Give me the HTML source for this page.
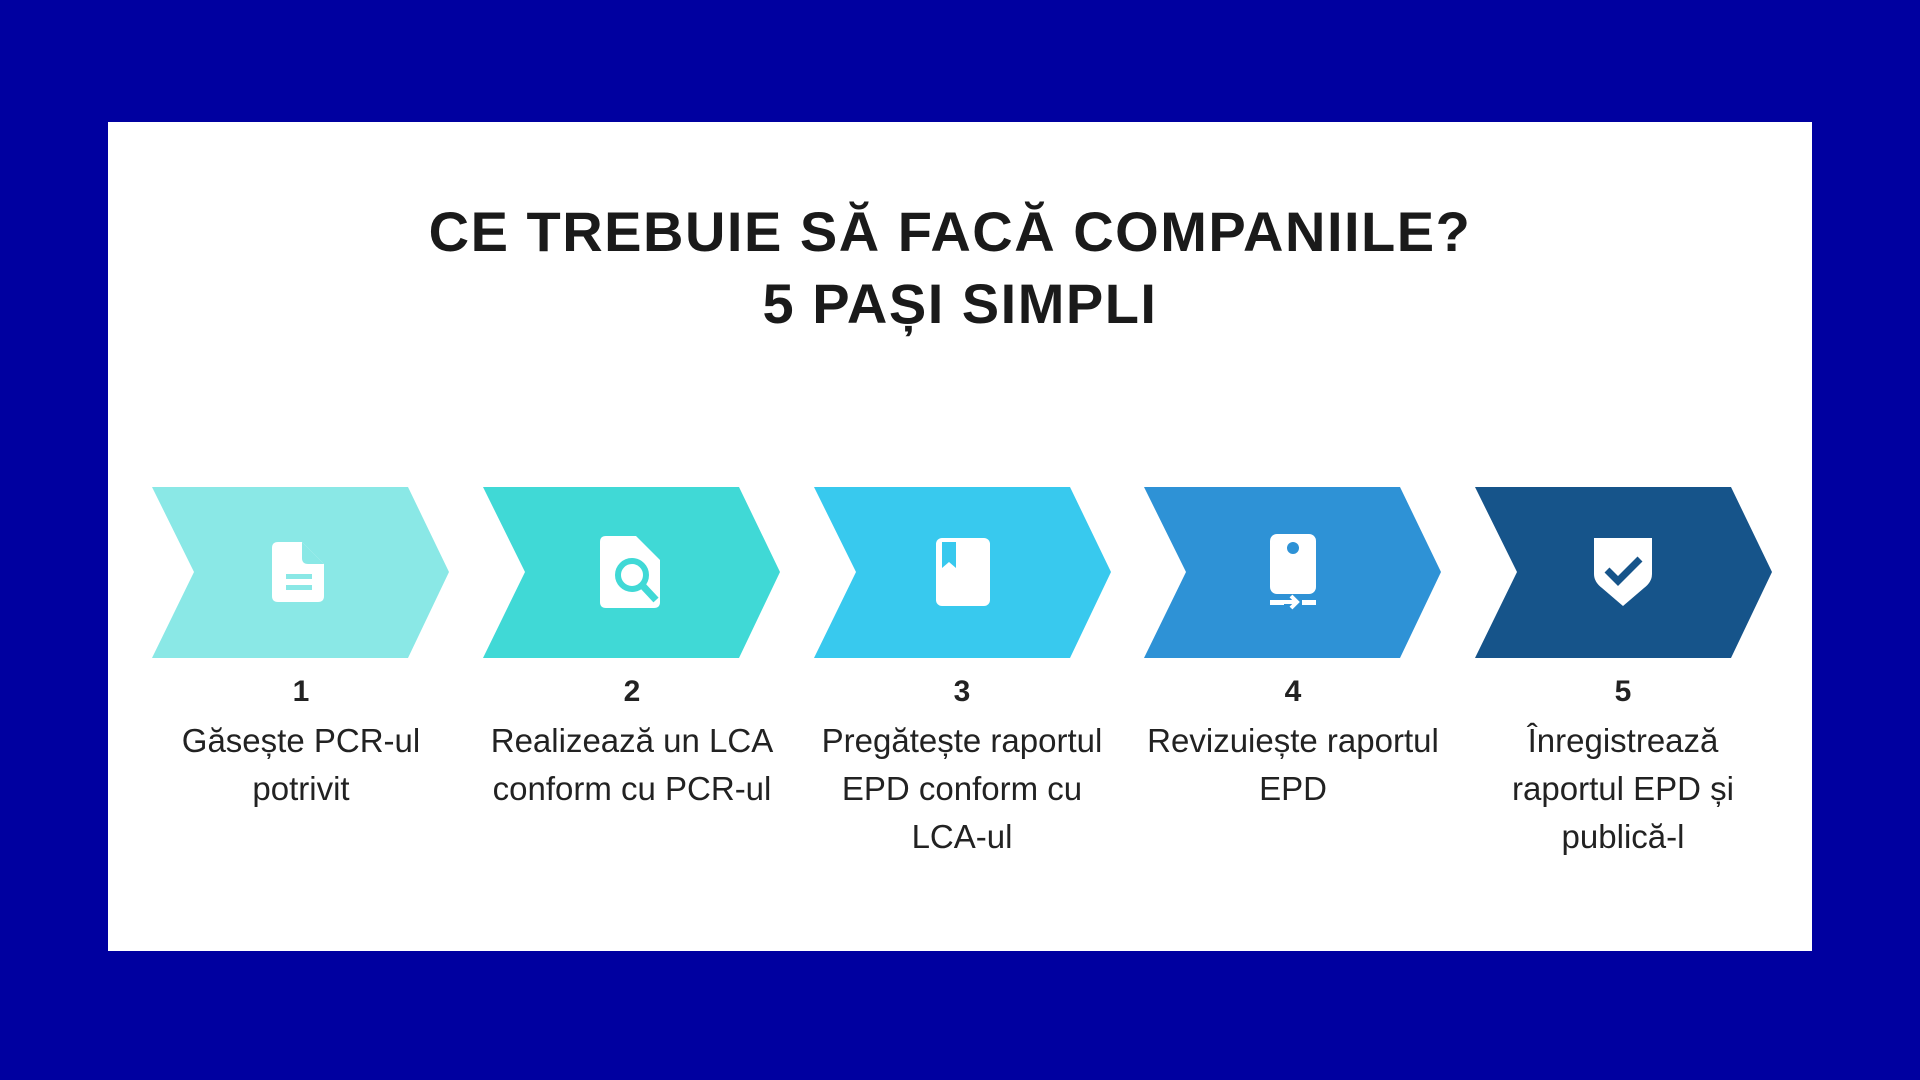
<!DOCTYPE html>
<html><head><meta charset="utf-8"><style>
html,body{margin:0;padding:0}
body{width:1920px;height:1080px;background:#0000A0;position:relative;overflow:hidden;font-family:"Liberation Sans",sans-serif}
.card{position:absolute;left:108px;top:122px;width:1704px;height:829px;background:#fff}
.title{position:absolute;width:1920px;text-align:center;font-weight:bold;font-size:56px;color:#1a1a1a;letter-spacing:1.5px;line-height:72px}
.lbl{position:absolute;width:330px;text-align:center;color:#222;font-size:33px;line-height:48px}
.num{position:absolute;width:330px;text-align:center;color:#222;font-size:30px;font-weight:bold}
</style></head><body>
<div class="card"></div>
<div class="title" style="left:-10px;top:196px">CE TREBUIE SĂ FACĂ COMPANIILE?</div>
<div class="title" style="left:0px;top:268px">5 PAȘI SIMPLI</div>
<svg width="1920" height="1080" style="position:absolute;left:0;top:0">
<g>
<polygon points="152,487 408,487 449,572 408,658 152,658 194,572" fill="#8AE8E6"/>
<polygon points="483,487 739,487 780,572 739,658 483,658 525,572" fill="#40D9D6"/>
<polygon points="814,487 1070,487 1111,572 1070,658 814,658 856,572" fill="#38C9EE"/>
<polygon points="1144,487 1400,487 1441,572 1400,658 1144,658 1186,572" fill="#2E92D6"/>
<polygon points="1475,487 1731,487 1772,572 1731,658 1475,658 1517,572" fill="#16548A"/>
</g>
<path d="M278,542 h24 l22,22 v32 q0,6 -6,6 h-40 q-6,0 -6,-6 v-48 q0,-6 6,-6z" fill="#fff"/>
<path d="M302,542 v16 q0,6 6,6 h16" fill="#8AE8E6"/>
<rect x="286" y="574" width="26" height="5" fill="#8AE8E6"/>
<rect x="286" y="585" width="26" height="5" fill="#8AE8E6"/>
<path d="M610,536 h26 l24,24 v42 q0,6 -6,6 h-48 q-6,0 -6,-6 v-60 q0,-6 6,-6z" fill="#fff"/>
<circle cx="632" cy="575" r="14" fill="none" stroke="#40D9D6" stroke-width="6"/>
<line x1="642" y1="585" x2="656" y2="600" stroke="#40D9D6" stroke-width="7"/>
<rect x="936" y="538" width="54" height="68" rx="6" fill="#fff"/>
<path d="M942,542 h14 v26 l-7,-6 l-7,6z" fill="#38C9EE"/>
<rect x="1270" y="534" width="46" height="60" rx="7" fill="#fff"/>
<circle cx="1293" cy="548" r="6" fill="#2E92D6"/>
<rect x="1270" y="600" width="14" height="5" fill="#fff"/>
<rect x="1302" y="600" width="14" height="5" fill="#fff"/>
<path d="M1284,602 h12 M1291,596 l6,6 l-6,6" stroke="#fff" stroke-width="4" fill="none"/>
<path d="M1594,538 h58 v36 q0,8 -8,14 l-21,18 l-21,-18 q-8,-6 -8,-14z" fill="#fff"/>
<path d="M1607,570 l11,11 l22,-22" stroke="#16548A" stroke-width="7" fill="none"/>
</svg>
<div class="num" style="left:136px;top:675px">1</div>
<div class="num" style="left:467px;top:675px">2</div>
<div class="num" style="left:797px;top:675px">3</div>
<div class="num" style="left:1128px;top:675px">4</div>
<div class="num" style="left:1458px;top:675px">5</div>
<div class="lbl" style="left:136px;top:717px">Găsește PCR-ul<br>potrivit</div>
<div class="lbl" style="left:467px;top:717px">Realizează un LCA<br>conform cu PCR-ul</div>
<div class="lbl" style="left:797px;top:717px">Pregătește raportul<br>EPD conform cu<br>LCA-ul</div>
<div class="lbl" style="left:1128px;top:717px">Revizuiește raportul<br>EPD</div>
<div class="lbl" style="left:1458px;top:717px">Înregistrează<br>raportul EPD și<br>publică-l</div>
</body></html>
